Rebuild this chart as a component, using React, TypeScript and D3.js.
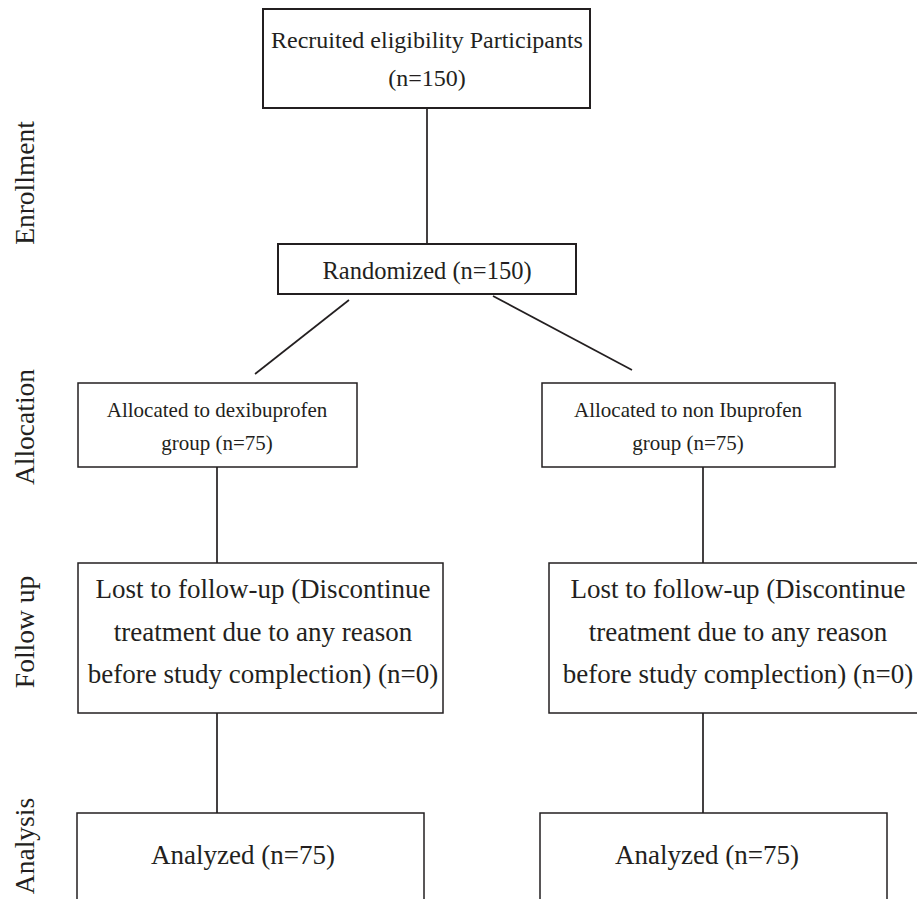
import React, { useEffect, useRef } from 'react'
import * as d3 from 'd3'

// flow values
const stageLabels = ['Enrollment', 'Allocation', 'Follow up', 'Analysis']
const groupNames = ['dexibuprofen', 'non Ibuprofen']
const recruitedN = [150]
const randomizedN = [150]
const allocatedN = [75, 75]
const lostN = [0, 0]
const analyzedN = [75, 75]

const width = 917
const height = 899
const ink = '#231f20'
const font = '"Liberation Serif", "DejaVu Serif", serif'

function App() {
    const svgRef = useRef(null)

    useEffect(() => {
        const svg = d3.select(svgRef.current)
        svg.selectAll('*').remove()

        // column centres for the two arms, and stage rows
        const armX = d3.scaleOrdinal().domain(groupNames).range([217, 703])
        const stageY = d3.scaleOrdinal().domain(stageLabels).range([183, 427, 632, 846])

        const boxes = [
            { x: 263, y: 9, w: 327, h: 99, cx: 427, size: 24, base: [48, 86],
              lines: ['Recruited eligibility Participants', `(n=${recruitedN[0]})`], sw: 2 },
            { x: 278, y: 244, w: 298, h: 50, cx: 427, size: 24.5, base: [279],
              lines: [`Randomized (n=${randomizedN[0]})`], sw: 2 },
            { x: 78, y: 383, w: 279, h: 84, cx: 217, size: 21, base: [417, 450],
              lines: [`Allocated to ${groupNames[0]}`, `group (n=${allocatedN[0]})`], sw: 1.5 },
            { x: 542, y: 383, w: 293, h: 84, cx: 688, size: 21, base: [417, 450],
              lines: [`Allocated to ${groupNames[1]}`, `group (n=${allocatedN[1]})`], sw: 1.5 },
            ...groupNames.map((g, i) => ({
                x: i === 0 ? 78 : 549, y: 563, w: i === 0 ? 365 : 380, h: 150,
                cx: i === 0 ? 263 : 738, size: 27, base: [598, 641, 683],
                lines: ['Lost to follow-up (Discontinue', 'treatment due to any reason',
                    `before study complection) (n=${lostN[i]})`], sw: 1.5
            })),
            ...groupNames.map((g, i) => ({
                x: i === 0 ? 77 : 540, y: 813, w: 347, h: 120,
                cx: i === 0 ? 243 : 707, size: 27, base: [864],
                lines: [`Analyzed (n=${analyzedN[i]})`], sw: 1.5
            }))
        ]

        const line = d3.line()
        const links = [
            [[427, 108], [427, 244]],
            [[349, 300], [255, 374]],
            [[493, 296], [632, 370]],
            ...groupNames.map(g => [[armX(g), 467], [armX(g), 563]]),
            ...groupNames.map(g => [[armX(g), 713], [armX(g), 813]])
        ]

        svg.selectAll('.link')
            .data(links)
            .enter().append('path')
            .attr('class', 'link')
            .attr('d', d => line(d))
            .attr('fill', 'none')
            .attr('stroke', ink)
            .attr('stroke-width', 1.7)

        const g = svg.selectAll('.box')
            .data(boxes)
            .enter().append('g')
            .attr('class', 'box')

        g.append('rect')
            .attr('x', d => d.x)
            .attr('y', d => d.y)
            .attr('width', d => d.w)
            .attr('height', d => d.h)
            .attr('fill', 'white')
            .attr('stroke', ink)
            .attr('stroke-width', d => d.sw)

        g.each(function (d) {
            d3.select(this).selectAll('text')
                .data(d.lines)
                .enter().append('text')
                .attr('x', d.cx)
                .attr('y', (t, i) => d.base[i])
                .attr('text-anchor', 'middle')
                .style('font-family', font)
                .style('font-size', `${d.size}px`)
                .attr('fill', ink)
                .text(t => t)
        })

        svg.selectAll('.stage')
            .data(stageLabels)
            .enter().append('text')
            .attr('class', 'stage')
            .attr('transform', s => `translate(34,${stageY(s)}) rotate(-90)`)
            .attr('text-anchor', 'middle')
            .style('font-family', font)
            .style('font-size', '27.5px')
            .attr('fill', ink)
            .text(s => s)
    }, [])

    return (
        <svg ref={svgRef} width={width} height={height}
            style={{ position: 'absolute', left: 0, top: 0, background: 'white' }} />
    )
}

export default App
